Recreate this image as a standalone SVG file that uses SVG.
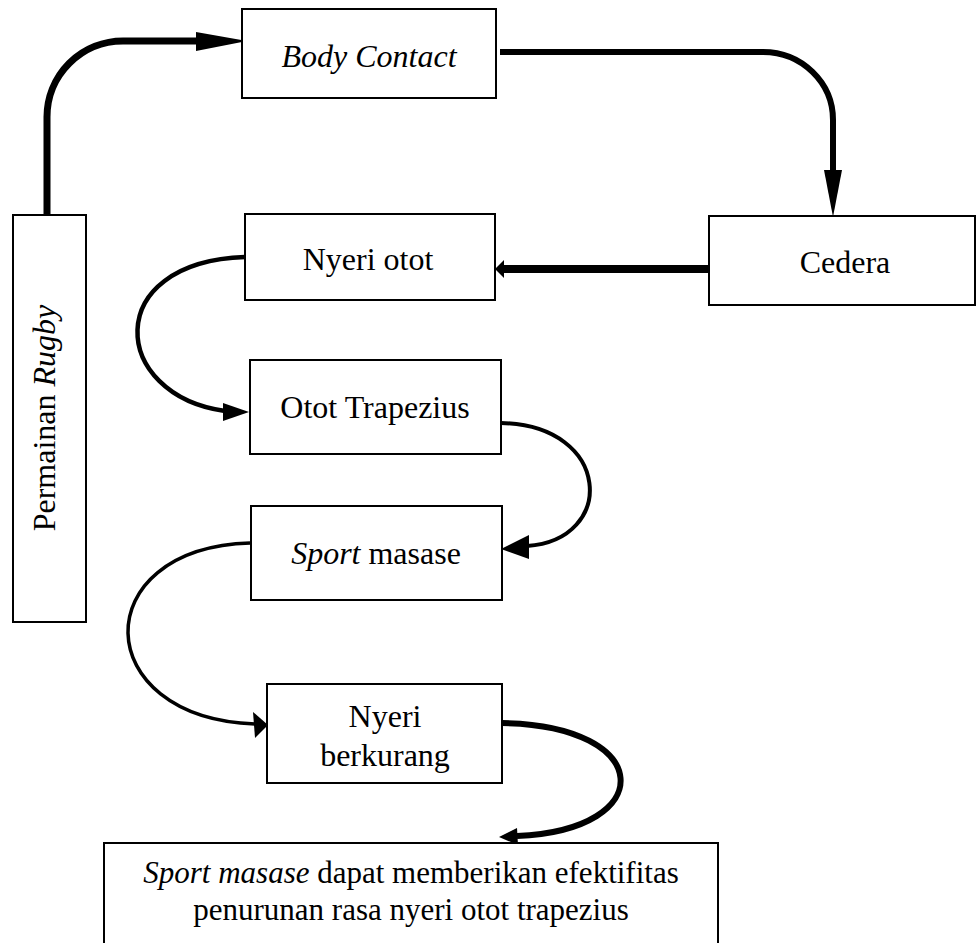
<svg xmlns="http://www.w3.org/2000/svg" width="976" height="943" viewBox="0 0 976 943">
<style>
.box{fill:#fff;stroke:#000;stroke-width:2}
.t{font-family:"Liberation Serif","Times New Roman",serif;font-size:32px;fill:#000;text-anchor:middle}
.s{font-size:31px}
.i{font-style:italic}
.c{fill:none;stroke:#000;stroke-linecap:butt}
.h{fill:#000;stroke:none}
</style>
<rect width="976" height="943" fill="#fff"/>
<g id="connectors">
<path class="c" d="M47,216 V117 A76,76 0 0 1 123,41 H200" stroke-width="7"/>
<polygon class="h" points="247,41 196,32 196,51"/>
<path class="c" d="M500,52 H763 A70,68 0 0 1 833,120 V172" stroke-width="6"/>
<polygon class="h" points="833,217 824,170 842,170"/>
<path class="c" d="M709,269 H500" stroke-width="8"/>
<polygon class="h" points="495,269 504,260 504,278"/>
<path class="c" d="M245,257 C100,262 110,395 225,411" stroke-width="4.5"/>
<polygon class="h" points="249,412 223,403 223,421"/>
<path class="c" d="M501,423 C612,425 617,540 527,546" stroke-width="4"/>
<polygon class="h" points="501,549 529,535 529,559"/>
<path class="c" d="M250,543 C85,548 88,718 255,724" stroke-width="3.5"/>
<polygon class="h" points="268,725 253,712 255,738"/>
<path class="c" d="M502,723 C655,725 660,830 517,836" stroke-width="6"/>
<polygon class="h" points="499,837 517,828 518,845"/>
</g>
<g id="rugby">
<rect class="box" x="13" y="215" width="73" height="407"/>
<text class="t" transform="translate(55,418) rotate(-90)">Permainan <tspan class="i">Rugby</tspan></text>
</g>
<g id="body-contact">
<rect class="box" x="242" y="9" width="254" height="89"/>
<text class="t i" x="369" y="67">Body Contact</text>
</g>
<g id="cedera">
<rect class="box" x="709" y="216" width="266" height="89"/>
<text class="t" x="845" y="273">Cedera</text>
</g>
<g id="nyeri-otot">
<rect class="box" x="245" y="214" width="250" height="86"/>
<text class="t" x="368" y="270">Nyeri otot</text>
</g>
<g id="otot-trapezius">
<rect class="box" x="250" y="360" width="251" height="94"/>
<text class="t" x="375" y="418">Otot Trapezius</text>
</g>
<g id="sport-masase">
<rect class="box" x="251" y="506" width="251" height="94"/>
<text class="t" x="376" y="564"><tspan class="i">Sport</tspan> masase</text>
</g>
<g id="nyeri-berkurang">
<rect class="box" x="267" y="684" width="235" height="99"/>
<text class="t" x="385" y="727">Nyeri</text>
<text class="t" x="385" y="766">berkurang</text>
</g>
<g id="kesimpulan">
<rect class="box" x="104" y="843" width="614" height="110"/>
<text class="t s" x="411" y="883"><tspan class="i">Sport masase</tspan> dapat memberikan efektifitas</text>
<text class="t s" x="411" y="920">penurunan rasa nyeri otot trapezius</text>
</g>
</svg>
